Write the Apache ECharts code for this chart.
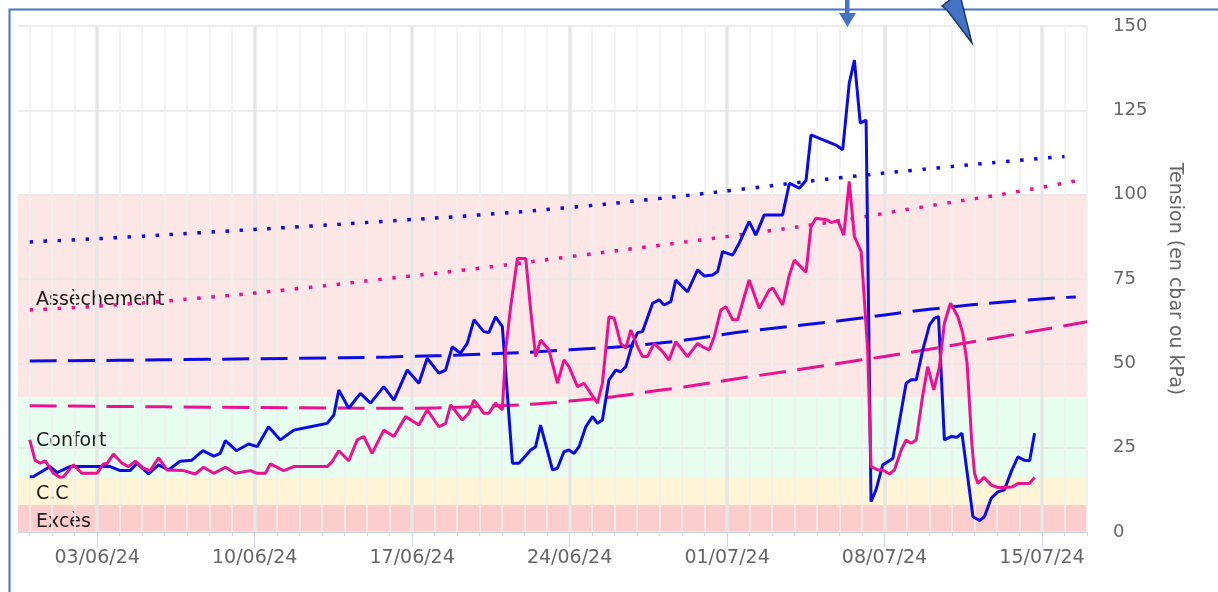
<!DOCTYPE html>
<html>
<head>
<meta charset="utf-8">
<script src="https://cdn.jsdelivr.net/npm/echarts@6/dist/echarts.min.js"></script>
<style>
  html, body { margin: 0; padding: 0; background: #fff; }
  #chart { width: 1218px; height: 592px; }
</style>
</head>
<body>
<div id="chart"></div>
<script>
// abscisse : jours depuis le 31/05/24
const joursEtiquettes = [3, 10, 17, 24, 31, 38, 45];
const etiquettesX = ['03/06/24', '10/06/24', '17/06/24', '24/06/24', '01/07/24', '08/07/24', '15/07/24'];

// zones de confort (cbar)
const bornesZones = [0, 8, 16, 40, 100, 150];
const couleursZones = ['#fccdcd', '#fef4d6', '#e6fdf0', '#fde6e6', 'rgba(255,255,255,0)'];
const nomsZones = ['Excès', 'C.C', 'Confort', 'Assèchement'];
const hauteurNoms = [3, 11.3, 27, 68.8];

// sonde bleue [jour, tension]
const sondeBleue = [
  [0, 16.4], [0.15, 16.4], [0.91, 19.4], [1.21, 17.6], [1.8, 19.4], [2.54, 19.4], [3.58, 19.4], [4.02, 18.2],
  [4.47, 18.2], [4.77, 20.4], [5.28, 17.2], [5.73, 19.9], [6.17, 18.4], [6.69, 21.0], [7.21, 21.3], [7.7, 24.1],
  [8.18, 22.5], [8.47, 23.3], [8.7, 27.1], [9.19, 24.1], [9.73, 26.1], [10.11, 25.3], [10.62, 31.2], [11.14, 27.3],
  [11.74, 30.2], [12.48, 31.2], [13.22, 32.2], [13.52, 34.7], [13.74, 42.1], [14.18, 36.7], [14.7, 41.1], [15.15, 38.2],
  [15.74, 43.1], [16.19, 39.1], [16.78, 48.0], [17.3, 44.1], [17.67, 51.5], [18.19, 47.1], [18.49, 48.0], [18.78, 54.9],
  [19.15, 53.0], [19.45, 55.9], [19.75, 62.9], [20.19, 59.4], [20.41, 59.1], [20.71, 63.8], [21.01, 60.9], [21.46, 20.4],
  [21.75, 20.4], [22.27, 24.3], [22.49, 25.3], [22.71, 31.7], [23.24, 18.4], [23.46, 18.9], [23.75, 23.8], [23.97, 24.3],
  [24.2, 23.3], [24.42, 25.3], [24.72, 31.2], [25.02, 34.2], [25.24, 32.2], [25.46, 33.2], [25.75, 45.1], [26.05, 48.0],
  [26.27, 47.5], [26.5, 49.0], [26.8, 55.9], [27.02, 59.1], [27.24, 59.4], [27.69, 67.8], [27.98, 68.8], [28.2, 67.3],
  [28.5, 68.3], [28.72, 74.7], [29.24, 71.2], [29.69, 77.7], [29.98, 75.9], [30.36, 76.2], [30.58, 77.2], [30.8, 83.1],
  [31.25, 82.1], [31.54, 85.6], [31.98, 92.0], [32.28, 88.0], [32.65, 94.0], [33.47, 94.0], [33.77, 103.4], [34.21, 101.9],
  [34.51, 104.2], [34.73, 117.7], [35.84, 114.7], [36.14, 113.3], [36.43, 133.0], [36.66, 139.9], [36.92, 121.2], [37.18, 122.1],
  [37.4, 9.0], [37.62, 12.5], [37.92, 19.9], [38.37, 21.8], [38.74, 35.7], [38.96, 44.1], [39.18, 45.1], [39.41, 45.1],
  [39.7, 54.0], [40.0, 61.4], [40.22, 63.4], [40.4, 63.8], [40.66, 27.3], [40.96, 28.3], [41.23, 28.1], [41.44, 29.3],
  [41.93, 4.5], [42.22, 3.4], [42.44, 4.5], [42.74, 10.0], [43.04, 11.9], [43.33, 12.5], [43.63, 17.9], [43.93, 22.3],
  [44.2, 21.3], [44.45, 21.1], [44.67, 29.3]
];

// sonde rose [jour, tension]
const sondeRose = [
  [0, 27.3], [0.24, 21.3], [0.46, 20.4], [0.69, 21.1], [1.05, 17.4], [1.35, 16.2], [1.5, 16.4], [1.94, 19.9],
  [2.32, 17.4], [2.99, 17.4], [3.28, 20.2], [3.43, 20.2], [3.72, 23.1], [4.1, 20.4], [4.39, 19.4], [4.69, 21.0],
  [5.06, 18.9], [5.36, 18.2], [5.73, 22.0], [6.1, 18.4], [6.84, 18.2], [7.36, 17.2], [7.73, 19.2], [8.18, 17.4],
  [8.7, 19.2], [9.14, 17.4], [9.81, 18.2], [10.11, 17.4], [10.48, 17.4], [10.7, 20.2], [11.29, 18.2], [11.74, 19.4],
  [13.22, 19.4], [13.44, 20.8], [13.74, 24.1], [14.18, 21.1], [14.56, 27.3], [14.85, 28.3], [15.22, 23.3], [15.74, 30.2],
  [16.19, 28.3], [16.71, 34.2], [17.3, 31.7], [17.67, 36.2], [18.19, 31.2], [18.49, 32.2], [18.71, 37.7], [19.23, 33.2],
  [19.52, 35.2], [19.75, 39.1], [20.19, 35.2], [20.41, 35.2], [20.71, 38.2], [21.01, 36.2], [21.16, 54.0], [21.38, 66.8],
  [21.68, 81.1], [22.05, 81.1], [22.27, 65.8], [22.49, 52.0], [22.71, 56.9], [23.08, 54.0], [23.46, 44.1], [23.75, 51.0],
  [23.97, 49.0], [24.35, 43.1], [24.64, 44.1], [24.94, 41.1], [25.24, 38.2], [25.46, 44.1], [25.75, 63.8], [25.98, 63.4],
  [26.27, 55.9], [26.5, 54.5], [26.72, 59.9], [27.02, 54.9], [27.24, 52.0], [27.46, 52.0], [27.76, 55.9], [28.13, 53.5],
  [28.42, 51.0], [28.72, 56.4], [29.24, 52.0], [29.69, 55.9], [29.91, 54.9], [30.21, 54.0], [30.43, 57.9], [30.72, 65.8],
  [30.95, 66.8], [31.25, 62.9], [31.47, 62.9], [31.98, 74.7], [32.43, 66.3], [32.87, 71.7], [33.03, 72.3], [33.47, 67.3],
  [33.77, 76.2], [33.99, 80.6], [34.51, 77.0], [34.73, 90.5], [34.95, 93.0], [35.47, 92.5], [35.62, 91.7], [35.92, 92.3],
  [36.19, 88.0], [36.43, 103.9], [36.66, 87.6], [36.96, 83.1], [37.25, 54.0], [37.4, 19.4], [37.7, 18.4], [37.92, 18.4],
  [38.22, 17.2], [38.44, 18.4], [38.74, 24.3], [38.96, 27.3], [39.18, 26.3], [39.41, 27.3], [39.7, 40.6], [39.92, 49.0],
  [40.19, 42.1], [40.44, 49.0], [40.66, 61.9], [40.93, 67.8], [41.26, 63.8], [41.48, 58.9], [41.67, 50.0], [41.88, 26.3],
  [42.0, 17.4], [42.15, 14.4], [42.42, 16.2], [42.74, 13.9], [43.04, 13.2], [43.41, 13.2], [43.7, 13.4], [43.93, 14.4],
  [44.45, 14.4], [44.67, 16.2]
];

// seuils
const seuilHautBleu = [[0, 86.0], [4, 87.3], [8, 88.9], [12, 90.5], [16, 92.2], [20, 94.0], [24, 96.2], [28, 98.9], [32, 101.9], [36, 105.0], [40, 107.7], [44, 110.2], [46, 111.3]];
const seuilHautRose = [[0, 65.8], [4, 67.4], [8, 69.6], [12, 72.2], [16, 75.2], [20, 78.2], [24, 81.6], [28, 85.0], [32, 88.5], [36, 92.3], [40, 96.7], [44, 101.0], [46.5, 104.1]];
const seuilBasBleu = [[0, 50.7], [4, 50.9], [8, 51.2], [12, 51.5], [16, 51.9], [20, 52.7], [24, 54.0], [28, 56.0], [32, 59.6], [36, 62.6], [40, 66.0], [44, 68.6], [46.5, 69.7]];
const seuilBasRose = [[0, 37.4], [4, 37.2], [8, 37.0], [12, 36.8], [16, 36.7], [20, 37.2], [24, 38.8], [28, 42.0], [32, 46.0], [36, 50.0], [40, 54.2], [44, 58.8], [47, 62.3]];

const bleu = '#0b0be8';
const rose = '#ec1192';
const police = 'DejaVu Sans';

const joursTous = [];
for (let j = 0; j <= 47; j++) joursTous.push(j);

const chart = echarts.init(document.getElementById('chart'), null, { renderer: 'canvas' });

const xCommun = { type: 'value', min: -0.52, max: 47, position: 'bottom', z: 1 };

chart.setOption({
  animation: false,
  textStyle: { fontFamily: police },
  grid: { left: 18, right: 131, top: 26, bottom: 60 },
  xAxis: [
    Object.assign({}, xCommun, {
      axisLine: { show: true, lineStyle: { color: '#ccd6eb', width: 1 } },
      axisTick: { show: true, customValues: joursTous, length: 4, lineStyle: { color: '#ccd6eb' } },
      axisLabel: { show: false },
      splitLine: { show: true, lineStyle: { color: '#f0f0f0', width: 1.6 } }
    }),
    Object.assign({}, xCommun, {
      axisLine: { show: false },
      axisTick: { show: true, customValues: joursEtiquettes, length: 15, lineStyle: { color: '#ccd6eb', width: 1 } },
      axisLabel: {
        customValues: joursEtiquettes, color: '#666', fontSize: 19, margin: 17,
        formatter: v => etiquettesX[joursEtiquettes.indexOf(Math.round(v))] || ''
      },
      splitLine: { show: true, lineStyle: { color: '#e6e6e6', width: 3.5 } }
    })
  ],
  yAxis: [
    {
      type: 'value', position: 'right', min: 0, max: 150, interval: 25, z: 1,
      axisLine: { show: false }, axisTick: { show: false },
      axisLabel: { color: '#666', fontSize: 18, margin: 26 },
      splitLine: { show: true, lineStyle: { color: '#e6e6e6', width: 1.6 } },
      name: 'Tension (en cbar ou kPa)', nameLocation: 'middle', nameRotate: -90, nameGap: 78,
      nameTextStyle: { color: '#666', fontSize: 19 }
    },
    {
      type: 'value', position: 'left', min: 0, max: 150, z: 0,
      axisLine: { show: false },
      axisTick: { show: false, customValues: bornesZones },
      splitLine: { show: false },
      splitArea: { show: true, areaStyle: { color: couleursZones } },
      axisLabel: {
        inside: true, customValues: hauteurNoms, color: '#1a1a1a', fontSize: 19, margin: 18,
        formatter: v => {
          const i = hauteurNoms.findIndex(h => Math.abs(h - v) < 0.01);
          return i >= 0 ? nomsZones[i] : '';
        }
      }
    }
  ],
  series: [
    { type: 'line', data: seuilHautBleu, smooth: true, showSymbol: false, z: 3,
      lineStyle: { color: bleu, width: 3.5, type: [3.5, 10.5] } },
    { type: 'line', data: seuilHautRose, smooth: true, showSymbol: false, z: 3,
      lineStyle: { color: rose, width: 3.5, type: [3.5, 10.5] } },
    { type: 'line', data: seuilBasBleu, smooth: true, showSymbol: false, z: 3,
      lineStyle: { color: bleu, width: 3, type: [27, 11.5] } },
    { type: 'line', data: seuilBasRose, smooth: true, showSymbol: false, z: 3,
      lineStyle: { color: rose, width: 3, type: [27, 11.5] } },
    { type: 'line', data: sondeBleue, showSymbol: false, z: 4,
      lineStyle: { color: bleu, width: 3 } },
    { type: 'line', data: sondeRose, showSymbol: false, z: 5,
      lineStyle: { color: rose, width: 3 } }
  ],
  graphic: [
    // cadre et annotations ajoutés sur la capture
    { type: 'rect', left: 7, top: 7, silent: true, z: 100,
      shape: { width: 1300, height: 700 }, style: { fill: null, stroke: '#4472c4', lineWidth: 2 } },
    { type: 'rect', silent: true, z: 100, shape: { x: 845, y: 0, width: 4.5, height: 14 }, style: { fill: '#4472c4' } },
    { type: 'polygon', silent: true, z: 100, shape: { points: [[839, 13], [856, 13], [847.5, 27]] }, style: { fill: '#4472c4' } },
    { type: 'polygon', silent: true, z: 100,
      shape: { points: [[942, 6], [951, -1], [961, -1], [972, 43], [947, 10]] },
      style: { fill: '#4472c4', stroke: '#1f3864', lineWidth: 1.5 } }
  ]
});
</script>
</body>
</html>
